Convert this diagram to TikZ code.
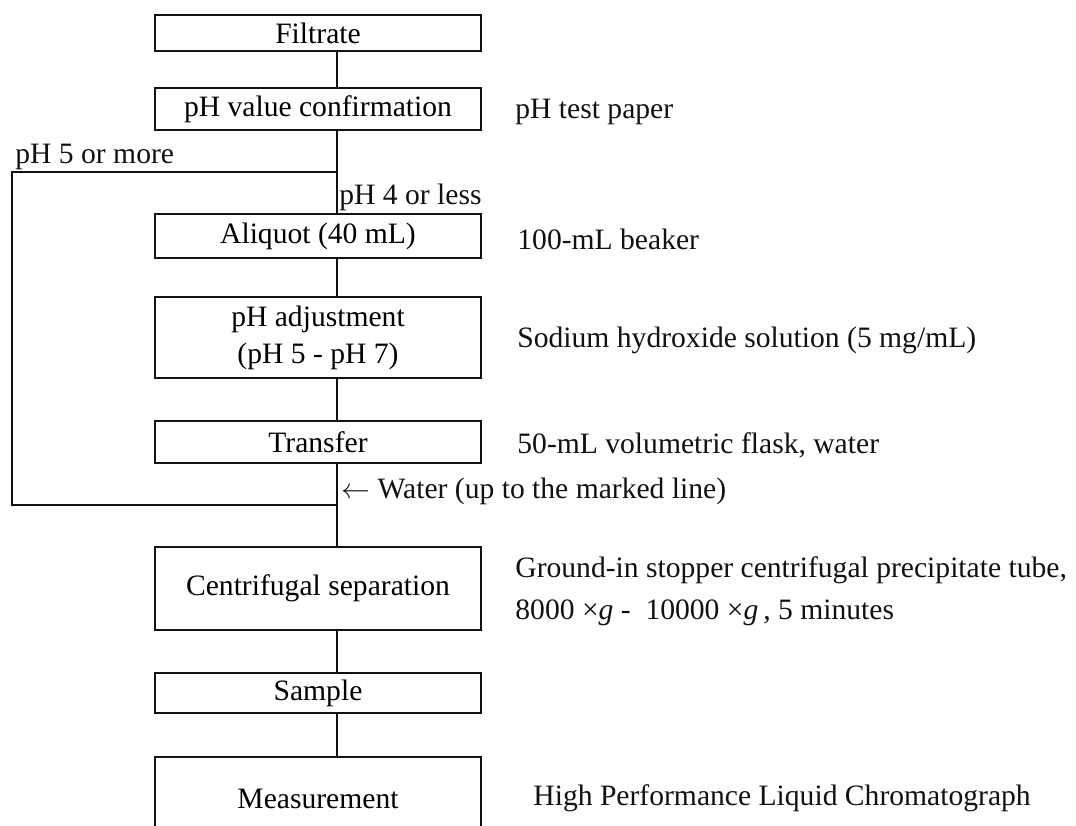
\documentclass[tikz,border=0pt]{standalone}
\usepackage{fontspec}
\setmainfont{Liberation Serif}
\usetikzlibrary{positioning}
\definecolor{ink}{HTML}{111111}
\tikzset{
  stage/.style={draw=ink, line width=1pt, outer sep=0pt, inner sep=0pt, align=center, minimum width=163pt, font=\fontsize{14.8pt}{18.5pt}\selectfont},
  note/.style={anchor=west, inner sep=0pt, align=left, text=ink, yshift=-1.5pt, font=\fontsize{14.8pt}{21pt}\selectfont},
  flow/.style={draw=ink, line width=1pt}
}

\begin{document}
\begin{tikzpicture}[x=0.5pt, y=-0.5pt]
  \path[use as bounding box, clip] (0,0) rectangle (1076,825);
  \coordinate (trunk) at (337,0);
  \coordinate (edge) at (12,0);

  \node[stage, minimum height=18pt] (filtrate) at (318,33) {Filtrate};
  \node[stage, minimum height=21pt, below=18.5pt of filtrate] (confirm) {pH value confirmation};
  \node[stage, minimum height=22pt, below=42pt of confirm] (aliquot) {Aliquot (40 mL)};
  \node[stage, minimum height=40.5pt, below=19.5pt of aliquot] (adjust) {pH adjustment\\(pH 5 - pH 7)};
  \node[stage, minimum height=21pt, below=21.5pt of adjust] (transfer) {Transfer};
  \node[stage, minimum height=41.5pt, below=42pt of transfer] (centri) {Centrifugal separation};
  \node[stage, minimum height=20pt, below=21.5pt of centri] (sample) {Sample};
  \node[stage, minimum height=41.5pt, below=22pt of sample] (measure) {Measurement};

  \node[note, right=17pt of confirm] (paper) {pH test paper};
  \node[note, right=18pt of aliquot] (beaker) {100-mL beaker};
  \node[note, right=18pt of adjust] (naoh) {Sodium hydroxide solution (5 mg/mL)};
  \node[note, right=18pt of transfer] (flask) {50-mL volumetric flask, water};
  \node[note, right=17pt of centri] (tube) {Ground-in stopper centrifugal precipitate tube,\\8000 ×\textit{g} -\ \ 10000 ×\textit{g}\,, 5 minutes};
  \node[note, right=26pt of measure, yshift=1.5pt] (hplc) {High Performance Liquid Chromatograph};

  \coordinate (split) at (337,172);
  \coordinate (merge) at (337,505);
  \node[note, anchor=south west] (more) at (15,167) {pH 5 or more};
  \node[note] (less) at (339,194) {pH 4 or less};
  \node[note] (water) at (341,488) {$\leftarrow$ Water (up to the marked line)};

  \draw[flow] (filtrate.south -| trunk) -- (confirm.north -| trunk);
  \draw[flow] (confirm.south -| trunk) -- (aliquot.north -| trunk);
  \draw[flow] (aliquot.south -| trunk) -- (adjust.north -| trunk);
  \draw[flow] (adjust.south -| trunk) -- (transfer.north -| trunk);
  \draw[flow] (transfer.south -| trunk) -- (centri.north -| trunk);
  \draw[flow] (centri.south -| trunk) -- (sample.north -| trunk);
  \draw[flow] (sample.south -| trunk) -- (measure.north -| trunk);
  \draw[flow] (split) -- (split -| edge) -- (merge -| edge) -- (merge);
\end{tikzpicture}
\end{document}
